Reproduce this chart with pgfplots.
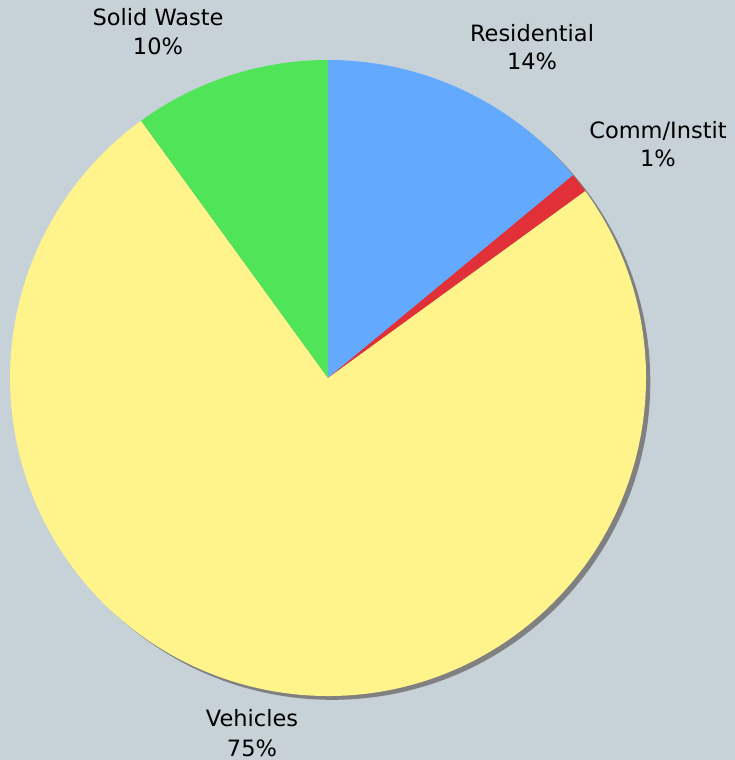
\documentclass[border=0pt]{standalone}
\usepackage{pgfplots}
\pgfplotsset{compat=1.18}
\usepackage{pgfplotstable}
\usepackage{fontspec}
\setmainfont{DejaVu Sans}
\definecolor{bgc}{RGB}{198,209,216}
\definecolor{cRes}{RGB}{99,170,255}
\definecolor{cCom}{RGB}{226,48,56}
\definecolor{cVeh}{RGB}{255,244,140}
\definecolor{cSol}{RGB}{80,228,88}
\definecolor{cShd}{RGB}{128,128,128}

\pgfplotstableread{
label value
Residential 14
CommInstit 1
Vehicles 75
SolidWaste 10
}\piedata

\pgfplotstablegetelem{0}{value}\of\piedata \let\vA\pgfplotsretval
\pgfplotstablegetelem{1}{value}\of\piedata \let\vB\pgfplotsretval
\pgfplotstablegetelem{2}{value}\of\piedata \let\vC\pgfplotsretval
\pgfplotstablegetelem{3}{value}\of\piedata \let\vD\pgfplotsretval
\pgfmathsetmacro\aA{90}
\pgfmathsetmacro\aB{\aA-3.6*\vA}
\pgfmathsetmacro\aC{\aB-3.6*\vB}
\pgfmathsetmacro\aD{\aC-3.6*\vC}
\pgfmathsetmacro\aE{\aD-3.6*\vD}

\begin{document}
\begin{tikzpicture}[x=1pt,y=1pt]
\fill[bgc] (0,0) rectangle (735,760);
\useasboundingbox (0,0) rectangle (735,760);
\begin{axis}[
  hide axis, scale only axis,
  width=636pt, height=636pt,
  xmin=-1, xmax=1, ymin=-1, ymax=1,
  at={(328pt,382pt)}, anchor=center,
  clip=false,
]
\addplot[draw=none] coordinates {(0,0)};
\fill[cShd] (axis cs:0.0135,-0.0120) circle[radius=1];
\fill[cRes] (axis cs:0,0) -- (axis cs:{cos(\aA)},{sin(\aA)}) arc[start angle=\aA, end angle=\aB, radius=1] -- cycle;
\fill[cCom] (axis cs:0,0) -- (axis cs:{cos(\aB)},{sin(\aB)}) arc[start angle=\aB, end angle=\aC, radius=1] -- cycle;
\fill[cVeh] (axis cs:0,0) -- (axis cs:{cos(\aC)},{sin(\aC)}) arc[start angle=\aC, end angle=\aD, radius=1] -- cycle;
\fill[cSol] (axis cs:0,0) -- (axis cs:{cos(\aD)},{sin(\aD)}) arc[start angle=\aD, end angle=\aE, radius=1] -- cycle;
\end{axis}
\begin{scope}[every node/.style={font=\fontsize{22.5}{28}\selectfont, text=black, anchor=base, inner sep=0pt}]
\node at (532,718) {Residential};
\node at (532,690) {14\%};
\node at (658,621) {Comm/Instit};
\node at (658,593) {1\%};
\node at (158,734) {Solid Waste};
\node at (158,705) {10\%};
\node at (252,33) {Vehicles};
\node at (252,4) {75\%};
\end{scope}
\end{tikzpicture}
\end{document}
